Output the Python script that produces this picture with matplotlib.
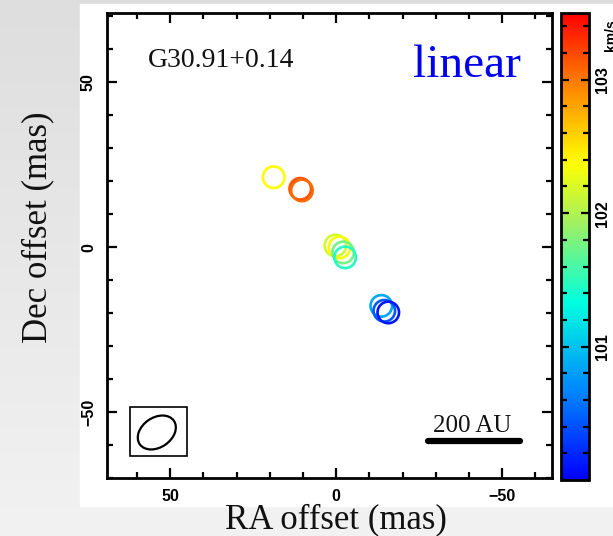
import numpy as np
import matplotlib
matplotlib.use("Agg")
import matplotlib.pyplot as plt
from matplotlib.patches import Ellipse, Rectangle
from matplotlib.ticker import MultipleLocator
import matplotlib.colors as mcolors
import matplotlib.cm as cm

# maser spot offsets (mas) and LSR velocities (km/s)
ra_off = [18.8, 10.8, 10.3, 0.2, -1.0, -2.1, -2.7, -13.6, -14.5, -15.7]
dec_off = [21.2, 17.7, 17.2, 0.5, -0.1, -1.6, -3.1, -17.8, -19.3, -19.8]
vlsr = [102.38, 103.15, 103.05, 102.17, 102.35, 101.75, 101.47, 100.85, 100.45, 100.12]

vmin, vmax = 100.0, 103.5
cbar_ticks = [101, 102, 103]

# IDL-style rainbow, blue -> red with no dark ends
rainbow = mcolors.LinearSegmentedColormap.from_list("idl_rainbow", [
    (0.0, "#0000ff"), (0.18, "#0080ff"), (0.38, "#00ffe0"), (0.55, "#a0f060"),
    (0.68, "#ffff00"), (0.85, "#ff8000"), (1.0, "#ff0000")])

fig = plt.figure(figsize=(6.13, 5.36), dpi=100)

# slide-like grey background with white panel
bg = fig.add_axes([0, 0, 1, 1])
grad = np.linspace(0, 1, 200)[:, None]
bg.imshow(grad, cmap=mcolors.LinearSegmentedColormap.from_list("g", ["#f2f2f2", "#dedede"]),
          aspect="auto", extent=[0, 1, 0, 1], origin="lower")
bg.add_patch(Rectangle((80 / 613, 1 - 505.7 / 536), 1, 501.7 / 536, color="white"))
bg.set_xlim(0, 1)
bg.set_ylim(0, 1)
bg.axis("off")

ax = fig.add_axes([107 / 613, 1 - 478 / 536, 445 / 613, 465 / 536])
norm = mcolors.Normalize(vmin=vmin, vmax=vmax)
ax.scatter(ra_off, dec_off, s=240, facecolors="none",
           edgecolors=rainbow(norm(np.array(vlsr))), linewidths=1.9)

ax.set_xlim(69, -65)
ax.set_ylim(-70, 71)
ax.xaxis.set_major_locator(MultipleLocator(50))
ax.xaxis.set_minor_locator(MultipleLocator(10))
ax.yaxis.set_major_locator(MultipleLocator(50))
ax.yaxis.set_minor_locator(MultipleLocator(10))
ax.tick_params(which="both", direction="in", top=True, right=True, width=1.6)
ax.tick_params(which="major", length=7, labelsize=11.5, pad=8)
ax.tick_params(which="minor", length=4)
for lab in ax.get_xticklabels() + ax.get_yticklabels():
    lab.set_fontfamily("Liberation Sans")
    lab.set_fontweight("bold")
for lab in ax.get_yticklabels():
    lab.set_rotation(90)
    lab.set_va("center")
for sp in ax.spines.values():
    sp.set_linewidth(2)

ax.text(34.8, 54.5, "G30.91+0.14", family="Liberation Serif", fontsize=20,
        ha="center", va="baseline", color="#111111")
ax.text(-39.3, 51.5, "linear", family="Liberation Serif", fontsize=34,
        ha="center", va="baseline", color="#0000ee")

# beam
ax.add_patch(Rectangle((45.0, -63.2), 17.2, 14.6, fill=False, lw=1.2, ec="black"))
ax.add_patch(Ellipse((54.0, -56.2), 12.5, 9.0, angle=145, fill=False, lw=1.6, ec="black"))

# scale bar
ax.plot([-27.6, -55.3], [-58.8, -58.8], color="black", lw=4.5, solid_capstyle="round")
ax.text(-41.0, -56.0, "200 AU", family="Liberation Serif", fontsize=18,
        ha="center", va="baseline", color="#111111")

fig.text(336 / 613, 1 - 520 / 536, "RA offset (mas)", family="Liberation Serif",
         fontsize=25, ha="center", va="center", color="#111111")
fig.text(38 / 613, 1 - 227 / 536, "Dec offset (mas)", family="Liberation Serif",
         fontsize=25, ha="center", va="center", rotation=90, color="#111111")

# colour bar
cax = fig.add_axes([561 / 613, 1 - 480 / 536, 28 / 613, 467 / 536])
cb = fig.colorbar(cm.ScalarMappable(norm=norm, cmap=rainbow), cax=cax, ticks=cbar_ticks)
cb.outline.set_linewidth(2)
cax.yaxis.set_minor_locator(MultipleLocator(0.2))
cax.tick_params(which="both", direction="in", left=True, right=True, width=1.6)
cax.tick_params(which="major", length=6, labelsize=11.5, pad=4)
cax.tick_params(which="minor", length=4)
for lab in cax.get_yticklabels():
    lab.set_fontfamily("Liberation Sans")
    lab.set_fontweight("bold")
    lab.set_rotation(90)
    lab.set_va("center")
fig.text(611 / 613, 1 - 35 / 536, "km/s", family="Liberation Sans", fontsize=10,
         fontweight="bold", rotation=90, ha="center", va="center")

fig.savefig("out.png", dpi=100)
